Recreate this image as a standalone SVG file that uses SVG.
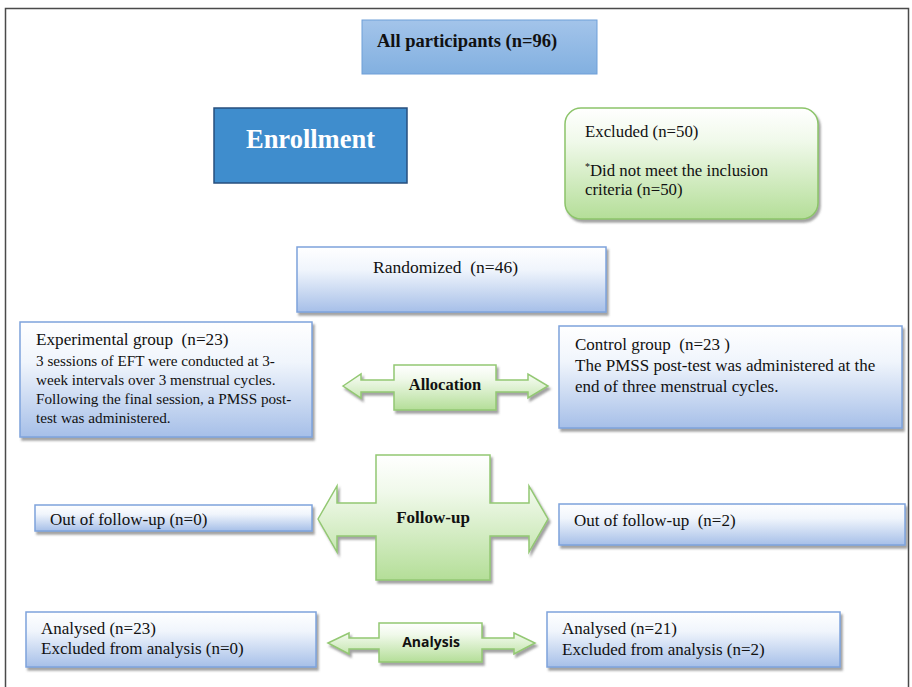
<svg xmlns="http://www.w3.org/2000/svg" width="912" height="687" viewBox="0 0 912 687">
<defs>
<linearGradient id="gBlue" x1="0" y1="0" x2="0" y2="1">
<stop offset="0" stop-color="#ffffff"/>
<stop offset="0.35" stop-color="#f0f5fc"/>
<stop offset="1" stop-color="#a6bfe8"/>
</linearGradient>
<linearGradient id="gTop" x1="0" y1="0" x2="0" y2="1">
<stop offset="0" stop-color="#a3c4ea"/>
<stop offset="1" stop-color="#82b0e0"/>
</linearGradient>
<linearGradient id="gGreen" x1="0" y1="0" x2="0" y2="1">
<stop offset="0" stop-color="#ffffff"/>
<stop offset="0.3" stop-color="#f0f9ea"/>
<stop offset="1" stop-color="#b4de98"/>
</linearGradient>
<filter id="sh" x="-10%" y="-10%" width="125%" height="135%">
<feDropShadow dx="2" dy="3" stdDeviation="1.2" flood-color="#555" flood-opacity="0.55"/>
</filter>
</defs>
<style>
.box{fill:url(#gBlue);stroke:#7ea3dc;stroke-width:1.5;filter:url(#sh)}
.arr{fill:url(#gGreen);stroke:#93c873;stroke-width:1.5;filter:url(#sh)}
.t{font-family:"Liberation Serif","Times New Roman",serif;fill:#111;white-space:pre}
.b{font-weight:bold}
</style>
<rect x="5.5" y="8.5" width="903" height="690" fill="#fff" stroke="#4a4a4a" stroke-width="1.5"/>

<g id="all-participants">
<rect x="362" y="20" width="235" height="54" fill="url(#gTop)" stroke="#6f9fd8" stroke-width="1"/>
<text class="t b" x="377" y="47" font-size="18.5">All participants (n=96)</text>
</g>

<g id="enrollment">
<rect x="214" y="108" width="193" height="75" fill="#3f8dcd" stroke="#274f7e" stroke-width="1.5"/>
<text class="t b" x="310.5" y="148" font-size="26.5" style="fill:#fff" text-anchor="middle">Enrollment</text>
</g>

<g id="excluded">
<rect x="565" y="108" width="253" height="111" rx="16" fill="url(#gGreen)" stroke="#8cc46a" stroke-width="1.5" filter="url(#sh)"/>
<text class="t" x="585" y="137" font-size="16.8">Excluded (n=50)</text>
<text class="t" x="585" y="176" font-size="16.8"><tspan font-size="10" dy="-6">*</tspan><tspan dy="6">Did not meet the inclusion</tspan></text>
<text class="t" x="585" y="195" font-size="16.8">criteria (n=50)</text>
</g>

<g id="randomized">
<rect class="box" x="297" y="247" width="309" height="65"/>
<text class="t" x="373" y="273" font-size="17.5" xml:space="preserve">Randomized  (n=46)</text>
</g>

<g id="experimental">
<rect class="box" x="20" y="322" width="292" height="115"/>
<text class="t" x="36" y="345" font-size="17.2" xml:space="preserve">Experimental group  (n=23)</text>
<text class="t" x="36" y="366" font-size="15.2">3 sessions of EFT were conducted at 3-</text>
<text class="t" x="36" y="385" font-size="15.2">week intervals over 3 menstrual cycles.</text>
<text class="t" x="36" y="404" font-size="15.2">Following the final session, a PMSS post-</text>
<text class="t" x="36" y="423" font-size="15.2">test was administered.</text>
</g>

<g id="control">
<rect class="box" x="559" y="326" width="343" height="102"/>
<text class="t" x="575" y="350" font-size="17" xml:space="preserve">Control group  (n=23 )</text>
<text class="t" x="575" y="371" font-size="17">The PMSS post-test was administered at the</text>
<text class="t" x="575" y="392" font-size="17">end of three menstrual cycles.</text>
</g>

<g id="out-left">
<rect class="box" x="35" y="505" width="277" height="26"/>
<text class="t" x="50" y="525" font-size="17">Out of follow-up (n=0)</text>
</g>

<g id="out-right">
<rect class="box" x="559" y="504" width="346" height="41"/>
<text class="t" x="574" y="526" font-size="17" xml:space="preserve">Out of follow-up  (n=2)</text>
</g>

<g id="analysed-left">
<rect class="box" x="26" y="612" width="290" height="55"/>
<text class="t" x="41" y="634" font-size="17">Analysed (n=23)</text>
<text class="t" x="41" y="654" font-size="17">Excluded from analysis (n=0)</text>
</g>

<g id="analysed-right">
<rect class="box" x="547" y="612" width="293" height="55"/>
<text class="t" x="562" y="634" font-size="17">Analysed (n=21)</text>
<text class="t" x="562" y="655" font-size="17">Excluded from analysis (n=2)</text>
</g>

<g id="connectors">
<g id="allocation">
<path class="arr" d="M343,386 L361,374 L361,380 L394,380 L394,365 L496,365 L496,380 L528,380 L528,374 L548,386 L528,398 L528,392 L496,392 L496,410 L394,410 L394,392 L361,392 L361,398 Z"/>
<text class="t b" x="445" y="390" font-size="16.5" text-anchor="middle">Allocation</text>
</g>
<g id="follow-up">
<path class="arr" d="M318,519 L337,486 L337,503 L376,503 L376,455 L490,455 L490,503 L529,503 L529,486 L548,519 L529,552 L529,536 L490,536 L490,580 L376,580 L376,536 L337,536 L337,552 Z"/>
<text class="t b" x="433" y="523" font-size="17" text-anchor="middle">Follow-up</text>
</g>
<g id="analysis">
<path class="arr" d="M328,643 L349,633 L349,638 L379,638 L379,623 L482,623 L482,638 L514,638 L514,633 L535,643 L514,654 L514,649 L482,649 L482,662 L379,662 L379,649 L349,649 L349,654 Z"/>
<text x="431" y="647" font-size="14" font-weight="bold" font-family="'Open Sans','Liberation Sans',sans-serif" fill="#111" text-anchor="middle">Analysis</text>
</g>
</g>
</svg>
